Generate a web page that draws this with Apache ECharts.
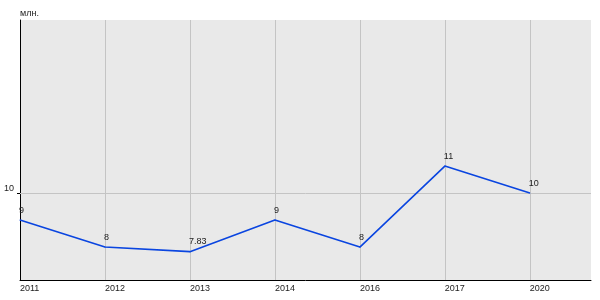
<!DOCTYPE html>
<html><head><meta charset="utf-8">
<script src="https://cdn.jsdelivr.net/npm/echarts@6/dist/echarts.min.js"></script>
<style>html,body{margin:0;padding:0;background:#fff}#c{width:600px;height:300px}</style>
</head><body><div id="c"></div>
<script>
const years = ['2011','2012','2013','2014','2016','2017','2020'];
const values = [9, 8, 7.83, 9, 8, 11, 10];
const valueLabels = ['9','8','7.83','9','8','11','10'];
const yTicks = [10];
const unit = 'млн.';

const chart = echarts.init(document.getElementById('c'), null, {renderer:'canvas'});
chart.setOption({
  animation:false,
  backgroundColor:'#ffffff',
  grid:{left:20, top:20, right:9, bottom:20, show:true, backgroundColor:'#e9e9e9', borderWidth:0, outerBoundsMode:'none', containLabel:false},
  xAxis:{
    type:'value', min:0, max:6.72, interval:1,
    axisLine:{show:true, lineStyle:{color:'#000', width:1}},
    axisTick:{show:false},
    axisLabel:{
      fontFamily:'Liberation Sans, Arial', fontSize:9, color:'#222', align:'left', margin:4,
      showMaxLabel:true, hideOverlap:false,
      formatter:function(v){ return Number.isInteger(v) && years[v] ? years[v] : ''; }
    },
    splitLine:{show:true, showMaxLine:false, lineStyle:{color:'#c4c4c4', width:1}}
  },
  yAxis:{
    type:'value', min:6.78, max:16.41,
    name:unit, nameLocation:'end', nameGap:2,
    nameTextStyle:{fontFamily:'Liberation Sans, Arial', fontSize:9, color:'#222', align:'left'},
    axisLine:{show:true, lineStyle:{color:'#000', width:1}},
    axisTick:{show:true, length:3, customValues:yTicks, lineStyle:{color:'#000'}},
    axisLabel:{fontFamily:'Liberation Sans, Arial', fontSize:9, color:'#222', margin:6, customValues:yTicks, verticalAlign:'bottom', lineHeight:10},
    splitLine:{show:false}
  },
  series:[{
    type:'line',
    data:values.map((v,i)=>[i,v]),
    symbol:'circle', symbolSize:1,
    itemStyle:{color:'#0a45e0'},
    lineStyle:{color:'#0a45e0', width:1.6},
    label:{show:true, position:'top', align:'left', offset:[-1,-2], distance:3,
      fontFamily:'Liberation Sans, Arial', fontSize:9, color:'#222',
      formatter:function(p){ return valueLabels[p.dataIndex]; }},
    markLine:{silent:true, symbol:'none', label:{show:false},
      lineStyle:{color:'#c4c4c4', type:'solid', width:1},
      data:yTicks.map(t=>({yAxis:t})), z:1},
    z:3
  }]
});
</script></body></html>
